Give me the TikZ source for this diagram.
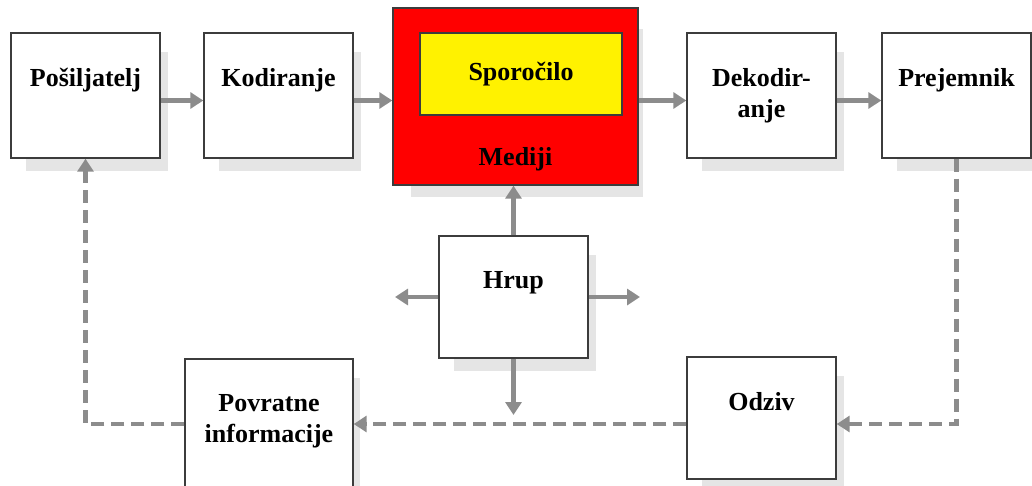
\documentclass[tikz,border=0pt]{standalone}
\usepackage{fontspec}
\setmainfont{Liberation Serif}
\usetikzlibrary{arrows.meta,shadows}
\definecolor{arrowgray}{RGB}{140,140,140}
\definecolor{framegray}{RGB}{60,60,60}

\begin{document}
\begin{tikzpicture}[x=0.02cm,y=-0.02cm,
    font=\fontsize{14.8}{17.5}\selectfont\bfseries,
    box/.style={draw=framegray,line width=0.8pt,fill=white,
      minimum width=2.98cm,minimum height=2.5cm,
      drop shadow={shadow xshift=0.24cm,shadow yshift=-0.34cm,
        shadow scale=0.95,fill=black!10,opacity=1}},
    boxtext/.style={anchor=north,align=center,yshift=-0.6cm},
    flow/.style={draw=arrowgray,line width=2.4pt,
      -{Triangle[length=0.26cm,width=0.32cm]}},
    back/.style={flow,dash pattern=on 0.26cm off 0.14cm}]
  \clip (0,0) rectangle (1032,485);
  % top row
  \node[box,label={[boxtext]north:Pošiljatelj}] (sender) at (85.5,95.5) {};
  \node[box,label={[boxtext]north:Kodiranje}] (coder) at (278.5,95.5) {};
  \node[box,fill=red,minimum width=4.9cm,minimum height=3.54cm,
    label={[anchor=base,yshift=0.4cm]south:Mediji}] (medij) at (515.5,96.5) {};
  \node[draw=framegray,line width=0.8pt,fill=yellow,
    minimum width=4.04cm,minimum height=1.64cm] (poruka) at (521,74) {Sporočilo};
  \node[box,label={[boxtext]north:Dekodir-\\anje}] (decoder) at (761.5,95.5) {};
  \node[box,label={[boxtext]north:Prejemnik}] (receiver) at (956.5,95.5) {};
  % noise
  \node[box,minimum height=2.44cm,label={[boxtext]north:Hrup}] (noise) at (513.5,297) {};
  \coordinate (leftend) at (395,297);
  \coordinate (rightend) at (640,297);
  \coordinate (downend) at (513.5,415);
  % bottom row
  \node[box,minimum height=2.44cm,label={[boxtext]north:Odziv}] (odziv) at (761.5,418) {};
  \node[box,minimum width=3.36cm,minimum height=2.6cm,
    label={[boxtext]north:Povratne\\informacije}] (povratne) at (269,424) {};
  \begin{scope}
    \draw[flow] ([yshift=-0.1cm]sender.east) -- ([yshift=-0.1cm]coder.west);
    \draw[flow] ([yshift=-0.1cm]coder.east) -- ([yshift=-0.1cm]medij.west |- coder.east);
    \draw[flow] ([yshift=-0.1cm]medij.east |- decoder.west) -- ([yshift=-0.1cm]decoder.west);
    \draw[flow] ([yshift=-0.1cm]decoder.east) -- ([yshift=-0.1cm]receiver.west);
    \draw[flow] (noise.north) -- (noise.north |- medij.south);
    \draw[flow] (noise.west) -- (leftend);
    \draw[flow] (noise.east) -- (rightend);
    \draw[flow] (noise.south) -- (downend);
  \end{scope}
  \begin{scope}
    \draw[back] (receiver.south) |- (odziv.east |- povratne.east);
    \draw[back] (odziv.west |- povratne.east) -- (povratne.east);
    \draw[back] (povratne.west) -| (sender.south);
  \end{scope}
\end{tikzpicture}
\end{document}
